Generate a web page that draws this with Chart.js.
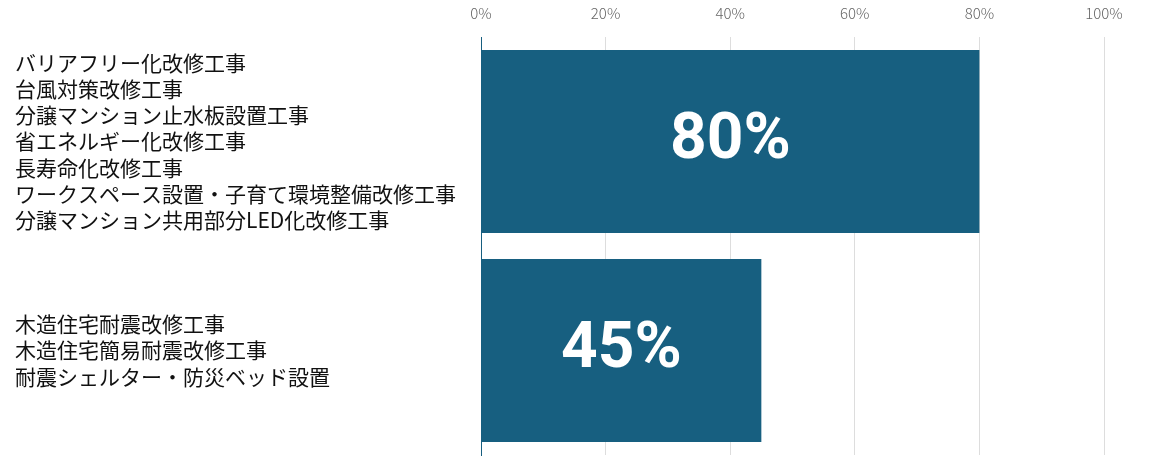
<!DOCTYPE html>
<html>
<head>
<meta charset="utf-8">
<script src="https://cdn.jsdelivr.net/npm/chart.js@4/dist/chart.umd.min.js"></script>
<style>
	html, body { margin: 0; padding: 0; background: #fff; overflow: hidden; }
	canvas { display: block; }
</style>
</head>
<body>
<canvas id="myChart" width="1162" height="468"></canvas>
<script>
// Chart data

var Categories = [
	["バリアフリー化改修工事",
	 "台風対策改修工事",
	 "分譲マンション止水板設置工事",
	 "省エネルギー化改修工事",
	 "長寿命化改修工事",
	 "ワークスペース設置・子育て環境整備改修工事",
	 "分譲マンション共用部分LED化改修工事"],
	["木造住宅耐震改修工事",
	 "木造住宅簡易耐震改修工事",
	 "耐震シェルター・防災ベッド設置"]
	];
var Values = [80, 45];
var TickValues = [0, 20, 40, 60, 80, 100];

var BarColor = "#175f80";
var FontName = "'Noto Sans CJK JP', 'Noto Sans', sans-serif";

// Value labels in the middle of each bar
var barLabels = {
	id: 'barLabels',
	afterDatasetsDraw: function(chart) {
		var ctx = chart.ctx;
		var meta = chart.getDatasetMeta(0);
		ctx.save();
		ctx.fillStyle = "#ffffff";
		ctx.font = "bold 64px Roboto, " + FontName;
		ctx.textAlign = "center";
		ctx.textBaseline = "middle";
		meta.data.forEach(function(bar, i) {
			var x = (bar.x + bar.base) / 2;
			ctx.fillText(Values[i] + "%", x, bar.y);
			});
		ctx.restore();
		}
	};

var Ctxt = document.getElementById("myChart").getContext("2d");

var ChartInst = new Chart(Ctxt, {
	type: "bar",
	data: {
		labels: Categories,
		datasets: [{
			data: Values,
			backgroundColor: BarColor,
			borderWidth: 0,
			barPercentage: 0.875,
			categoryPercentage: 1.0
			}]
		},
	options: {
		indexAxis: 'y',
		animation: false,
		responsive: false,
		devicePixelRatio: 1,
		layout: {
			padding: { left: 15, right: 58, top: 0, bottom: 13 }
			},
		plugins: {
			legend: { display: false },
			tooltip: { enabled: false }
			},
		scales: {
			x: {
				position: 'top',
				min: 0,
				max: 100,
				afterBuildTicks: function(scale) {
					scale.ticks = TickValues.map(function(v) { return { value: v }; });
					},
				afterFit: function(scale) { scale.height = 37; },
				grid: {
					color: "#dddddd",
					lineWidth: 1,
					drawTicks: false
					},
				border: { display: false },
				ticks: {
					padding: 15,
					color: "#666666",
					font: { family: FontName, size: 15, weight: '300' },
					callback: function(v) { return v + "%"; }
					}
				},
			y: {
				afterFit: function(scale) {
					scale.width = 466;
					// the 7-line label would otherwise reserve room under the chart
					scale.paddingTop = 0;
					scale.paddingBottom = 0;
					},
				grid: { display: false, drawTicks: false },
				border: { display: true, color: BarColor, width: 1 },
				ticks: {
					crossAlign: 'far',
					padding: 0,
					color: "#111111",
					font: { family: FontName, size: 21, lineHeight: 1.25 }
					}
				}
			}
		},
	plugins: [barLabels]
	});
</script>
</body>
</html>
